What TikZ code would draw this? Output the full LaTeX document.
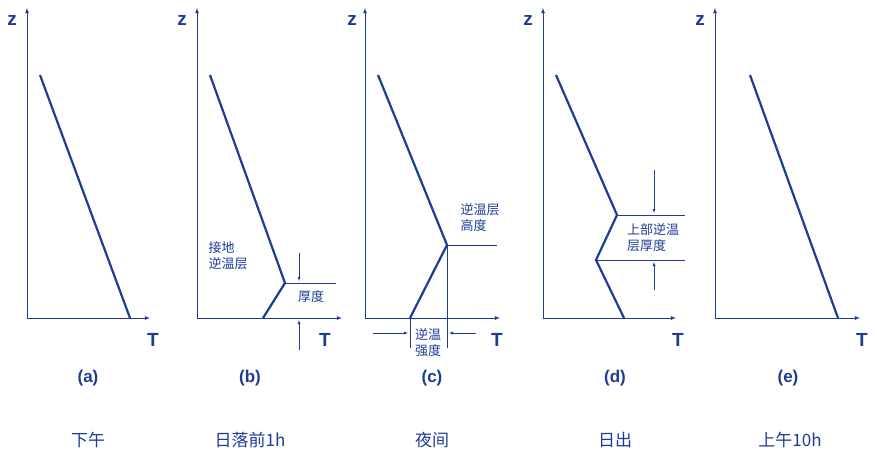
\documentclass[tikz,border=0pt]{standalone}
\usepackage{fontspec}
\setsansfont{Liberation Sans}
\newfontfamily\cjk{Noto Sans CJK SC}
\definecolor{lineblue}{RGB}{30,60,150}
\begin{document}
\begin{tikzpicture}[x=1pt,y=-1pt,
	axis/.style={lineblue, thick, -latex},
	prof/.style={lineblue, line width=2.2pt},
	thin line/.style={lineblue, thin},
	tag/.style={lineblue, font=\sffamily\bfseries\fontsize{19}{19}\selectfont},
	lab/.style={lineblue, font=\cjk\fontsize{13}{16}\selectfont, align=left},
	panelcap/.style={font=\sffamily\bfseries\fontsize{17}{17}\selectfont, text=lineblue},
	ttl/.style={font=\cjk\fontsize{17}{17}\selectfont, text=lineblue}]
	\useasboundingbox (0,0) rectangle (877,472);
	% (a)
	\draw[axis] (27,318) -- (27,8);
	\draw[axis] (27,318) -- (150,318);
	\draw[prof] (40,75) -- (130,318);
	\node[tag] (za) at (12,20) {z};
	\node[tag] (ta) at (153,340) {T};
	\node[panelcap] (ca) at (88,378) {(a)};
	\node[ttl] (na) at (88,440) {下午};
	% (b)
	\draw[axis] (197,318) -- (197,8);
	\draw[axis] (197,318) -- (342,318);
	\draw[prof] (210,75) -- (285,283) -- (263,318);
	\draw[thin line] (285,283) -- (336,283);
	\draw[thin line, -latex] (299,253) -- (299,281);
	\draw[thin line, -latex] (299,350) -- (299,320);
	\node[lab] (hb) at (311,297) {厚度};
	\node[lab] (gb) at (228,256) {接地\\逆温层};
	\node[tag] (zb) at (182,20) {z};
	\node[tag] (tb) at (325,340) {T};
	\node[panelcap] (cb) at (250,378) {(b)};
	\node[ttl] (nb) at (250,440) {日落前1h};
	% (c)
	\draw[axis] (365,318) -- (365,8);
	\draw[axis] (365,318) -- (500,318);
	\draw[prof] (378,75) -- (447,245) -- (410,318);
	\draw[thin line] (447,245) -- (497,245);
	\draw[thin line] (410,318) -- (410,348);
	\draw[thin line] (447,245) -- (447,348);
	\draw[thin line, -latex] (373,333) -- (408,333);
	\draw[thin line, -latex] (476,333) -- (449,333);
	\node[lab] (sc) at (428,343) {逆温\\强度};
	\node[lab] (hc) at (480,218) {逆温层\\高度};
	\node[tag] (zc) at (352,20) {z};
	\node[tag] (tc) at (497,340) {T};
	\node[panelcap] (cc) at (432,378) {(c)};
	\node[ttl] (nc) at (432,440) {夜间};
	% (d)
	\draw[axis] (543,318) -- (543,8);
	\draw[axis] (543,318) -- (676,318);
	\draw[prof] (556,75) -- (617,215) -- (596,260) -- (624,318);
	\draw[thin line] (617,215) -- (685,215);
	\draw[thin line] (596,260) -- (685,260);
	\draw[thin line, -latex] (654,170) -- (654,213);
	\draw[thin line, -latex] (654,290) -- (654,262);
	\node[lab] (ud) at (653,238) {上部逆温\\层厚度};
	\node[tag] (zd) at (528,20) {z};
	\node[tag] (td) at (678,340) {T};
	\node[panelcap] (cd) at (615,378) {(d)};
	\node[ttl] (nd) at (615,440) {日出};
	% (e)
	\draw[axis] (715,318) -- (715,8);
	\draw[axis] (715,318) -- (860,318);
	\draw[prof] (750,75) -- (838,318);
	\node[tag] (ze) at (700,20) {z};
	\node[tag] (te) at (862,340) {T};
	\node[panelcap] (ce) at (788,378) {(e)};
	\node[ttl] (ne) at (790,440) {上午10h};
\end{tikzpicture}
\end{document}
